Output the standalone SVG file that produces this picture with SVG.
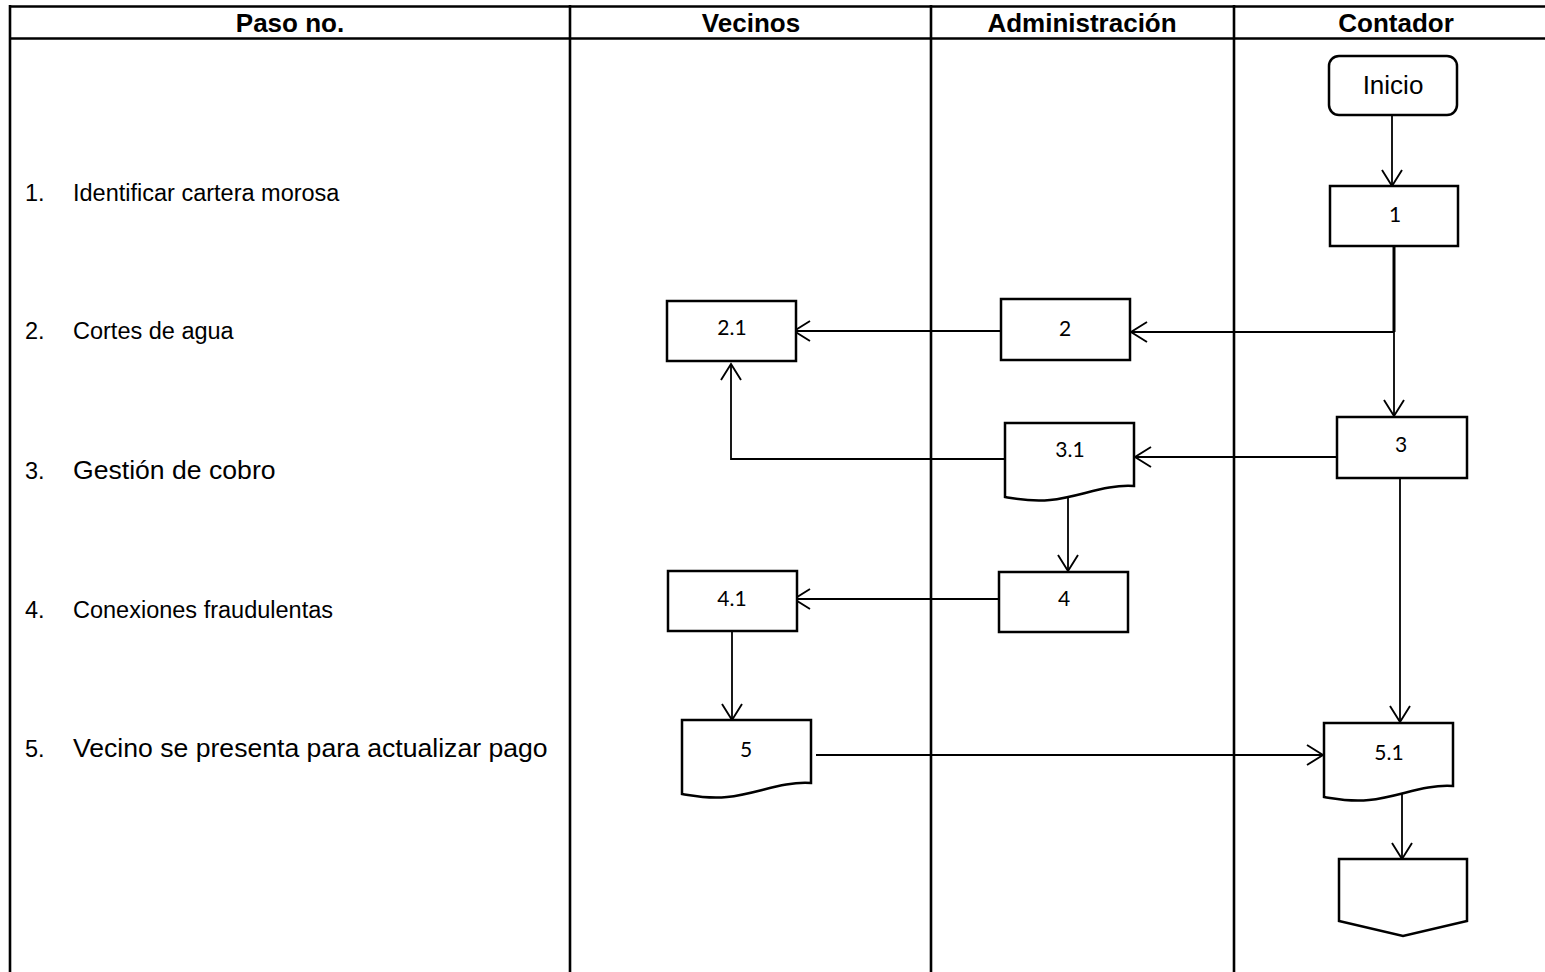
<svg xmlns="http://www.w3.org/2000/svg" width="1545" height="972" viewBox="0 0 1545 972">
  <style>
    .grid { stroke: #000; stroke-width: 2.6; fill: none; }
    .hdr { font-family: "Liberation Sans", Arial, sans-serif; font-weight: bold; font-size: 26px; text-anchor: middle; fill: #000; }
    .step { font-family: "Liberation Sans", Arial, sans-serif; font-size: 23.5px; fill: #000; }
    .stepL { font-family: "Liberation Sans", Arial, sans-serif; font-size: 26.6px; fill: #000; }
    .shape { fill: #fff; stroke: #000; stroke-width: 2.5; }
    .num { font-family: "Lato", "Open Sans", sans-serif; font-size: 21px; text-anchor: middle; fill: #000; }
    .big { font-family: "Liberation Sans", Arial, sans-serif; font-size: 26px; text-anchor: middle; fill: #000; }
    .conn { stroke: #000; stroke-width: 1.8; fill: none; }
  </style>
  <defs>
    <marker id="open" markerUnits="userSpaceOnUse" markerWidth="24" markerHeight="24" viewBox="-18 -12 20 24" refX="0" refY="0" orient="auto">
      <path d="M-16,-10 L0,0 L-16,10" fill="none" stroke="#000" stroke-width="1.9"/>
    </marker>
  </defs>

  <rect width="1545" height="972" fill="#fff"/>

  <!-- table frame -->
  <g id="table">
    <line class="grid" x1="9" y1="6.5" x2="1545" y2="6.5"/>
    <line class="grid" x1="9" y1="38.5" x2="1545" y2="38.5"/>
    <line class="grid" x1="10" y1="5" x2="10" y2="972"/>
    <line class="grid" x1="570" y1="5" x2="570" y2="972"/>
    <line class="grid" x1="931" y1="5" x2="931" y2="972"/>
    <line class="grid" x1="1234" y1="5" x2="1234" y2="972"/>
    <text class="hdr" x="290" y="32">Paso no.</text>
    <text class="hdr" x="751" y="32">Vecinos</text>
    <text class="hdr" x="1082" y="32">Administración</text>
    <text class="hdr" x="1396" y="32">Contador</text>
  </g>

  <!-- step list -->
  <g id="steps">
    <text class="step" x="25" y="201">1.</text>
    <text class="step" x="73" y="201">Identificar cartera morosa</text>
    <text class="step" x="25" y="339">2.</text>
    <text class="step" x="73" y="339">Cortes de agua</text>
    <text class="step" x="25" y="479">3.</text>
    <text class="stepL" x="73" y="479">Gestión de cobro</text>
    <text class="step" x="25" y="618">4.</text>
    <text class="step" x="73" y="618">Conexiones fraudulentas</text>
    <text class="step" x="25" y="757">5.</text>
    <text class="stepL" x="73" y="757">Vecino se presenta para actualizar pago</text>
  </g>

  <!-- connectors -->
  <g id="connectors">
    <line class="conn" x1="1392" y1="115" x2="1392" y2="186" marker-end="url(#open)"/>
    <line x1="1394" y1="246" x2="1394" y2="332" stroke="#000" stroke-width="3"/>
    <line class="conn" x1="1394" y1="332" x2="1131" y2="332" marker-end="url(#open)"/>
    <line class="conn" x1="1394" y1="332" x2="1394" y2="416" marker-end="url(#open)"/>
    <line class="conn" x1="1001" y1="331" x2="794" y2="331" marker-end="url(#open)"/>
    <line class="conn" x1="1337" y1="457" x2="1135" y2="457" marker-end="url(#open)"/>
    <polyline class="conn" points="1005,459 731,459 731,364" marker-end="url(#open)"/>
    <line class="conn" x1="1068" y1="494" x2="1068" y2="571" marker-end="url(#open)"/>
    <line class="conn" x1="999" y1="599" x2="794" y2="599" marker-end="url(#open)"/>
    <line class="conn" x1="732" y1="632" x2="732" y2="720" marker-end="url(#open)"/>
    <line class="conn" x1="816" y1="755" x2="1323" y2="755" marker-end="url(#open)"/>
    <line class="conn" x1="1400" y1="478" x2="1400" y2="722" marker-end="url(#open)"/>
    <line class="conn" x1="1402" y1="793" x2="1402" y2="859" marker-end="url(#open)"/>
  </g>

  <!-- nodes -->
  <g id="inicio">
    <rect class="shape" x="1329" y="56" width="128" height="59" rx="10"/>
    <text class="big" x="1393" y="94">Inicio</text>
  </g>
  <g id="n1">
    <rect class="shape" x="1330" y="186" width="128" height="60"/>
    <text class="num" x="1395" y="222">1</text>
  </g>
  <g id="n2">
    <rect class="shape" x="1001" y="299" width="129" height="61"/>
    <text class="num" x="1065" y="336">2</text>
  </g>
  <g id="n2_1">
    <rect class="shape" x="667" y="301" width="129" height="60"/>
    <text class="num" x="732" y="335">2.1</text>
  </g>
  <g id="n3">
    <rect class="shape" x="1337" y="417" width="130" height="61"/>
    <text class="num" x="1401" y="452">3</text>
  </g>
  <g id="n3_1">
    <path class="shape" d="M1005,423 H1134 V486 C1105,484 1080,497 1050,500 C1030,502 1018,499 1005,497 Z"/>
    <text class="num" x="1070" y="457">3.1</text>
  </g>
  <g id="n4">
    <rect class="shape" x="999" y="572" width="129" height="60"/>
    <text class="num" x="1064" y="606">4</text>
  </g>
  <g id="n4_1">
    <rect class="shape" x="668" y="571" width="129" height="60"/>
    <text class="num" x="732" y="606">4.1</text>
  </g>
  <g id="n5">
    <path class="shape" d="M682,720 H811 V783 C782,781 757,794 727,797 C707,799 695,796 682,794 Z"/>
    <text class="num" x="746" y="757">5</text>
  </g>
  <g id="n5_1">
    <path class="shape" d="M1324,723 H1453 V786 C1424,784 1399,797 1369,800 C1349,802 1337,799 1324,797 Z"/>
    <text class="num" x="1389" y="760">5.1</text>
  </g>
  <g id="offpage">
    <polygon class="shape" points="1339,859 1467,859 1467,921 1403,936 1339,921"/>
  </g>
</svg>
